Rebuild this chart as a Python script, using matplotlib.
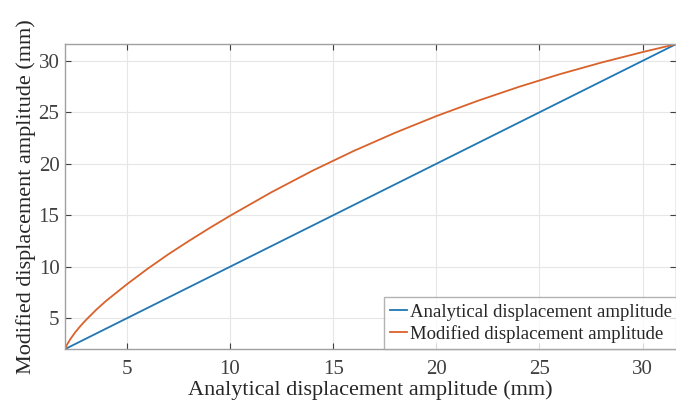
import numpy as np
import matplotlib.pyplot as plt

# values
x_analytical = [2.0, 31.62]
y_analytical = [2.0, 31.62]

x_modified = [2.0, 2.1, 2.25, 2.5, 2.75, 3.0, 3.5, 4.0, 5.0, 6.0, 7.0, 8.0, 9.0, 10.0,
              12.0, 14.0, 16.0, 18.0, 20.0, 22.0, 24.0, 26.0, 28.0, 30.0, 31.62]
y_modified = [2.0, 2.45, 2.95, 3.65, 4.25, 4.8, 5.8, 6.7, 8.3, 9.8, 11.2, 12.5, 13.75, 14.95,
              17.23, 19.33, 21.25, 23.01, 24.63, 26.11, 27.47, 28.71, 29.83, 30.85, 31.62]

xticks = [5, 10, 15, 20, 25, 30]
yticks = [5, 10, 15, 20, 25, 30]

plt.rcParams['font.family'] = ['Liberation Serif', 'DejaVu Serif']

fig = plt.figure(figsize=(6.76, 4.05), dpi=100)
ax = fig.add_axes([0.0962, 0.138, 0.9038, 0.753])

ax.plot(x_analytical, y_analytical, color='#1f77b4', lw=1.3,
        label='Analytical displacement amplitude')
ax.plot(x_modified, y_modified, color='#d9622b', lw=1.3,
        label='Modified displacement amplitude')

ax.set_xlim(2, 31.62)
ax.set_ylim(2, 31.62)
ax.set_xticks(xticks)
ax.set_yticks(yticks)
ax.grid(True, color='#e6e6e6', lw=0.8)
ax.set_axisbelow(True)
ax.tick_params(direction='in', top=True, right=True, labelsize=15,
               colors='#404040', length=4, width=0.8)
ax.tick_params(axis='x', pad=8)
ax.tick_params(axis='y', pad=4)
for s in ax.spines.values():
    s.set_color('#a0a0a0')
    s.set_linewidth(1.0)

ax.set_xlabel('Analytical displacement amplitude (mm)', fontsize=16, color='#262626', labelpad=1)
ax.set_ylabel('Modified displacement amplitude (mm)', fontsize=16, color='#262626', labelpad=2)

leg = ax.legend(loc='lower right', bbox_to_anchor=(1.004, 0.0), fontsize=13.5,
                borderaxespad=0, frameon=True, fancybox=False, handlelength=0.9,
                handletextpad=0.15, borderpad=0.35, labelspacing=0.2)
leg.get_frame().set_edgecolor('#a0a0a0')
leg.get_frame().set_linewidth(1.0)
for t in leg.get_texts():
    t.set_color('#262626')

fig.savefig('out.png', dpi=100)
